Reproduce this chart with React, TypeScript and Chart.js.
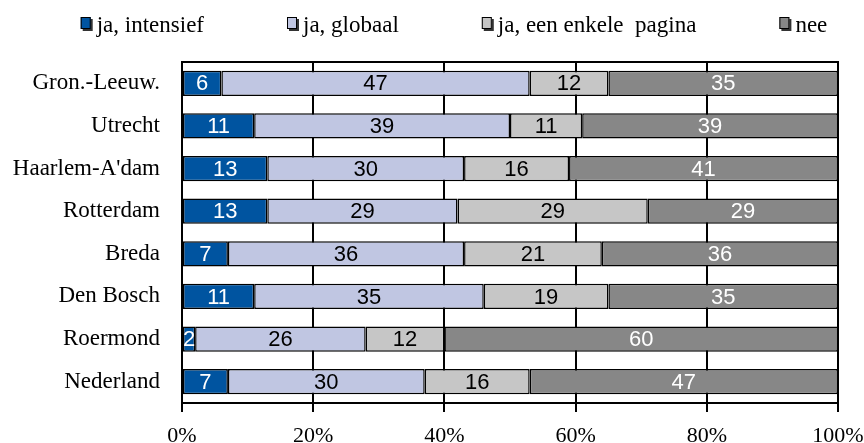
import React, { useEffect, useRef } from "react";
import { Chart, registerables } from "chart.js";

Chart.register(...registerables);

const categories = [
  "Gron.-Leeuw.",
  "Utrecht",
  "Haarlem-A'dam",
  "Rotterdam",
  "Breda",
  "Den Bosch",
  "Roermond",
  "Nederland",
];
const seriesNames = ["ja, intensief", "ja, globaal", "ja, een enkele  pagina", "nee"];
const intensief = [6, 11, 13, 13, 7, 11, 2, 7];
const globaal = [47, 39, 30, 29, 36, 35, 26, 30];
const enkelePagina = [12, 11, 16, 29, 21, 19, 12, 16];
const nee = [35, 39, 41, 29, 36, 35, 60, 47];
const xTicks = [0, 20, 40, 60, 80, 100];

const fillColors = ["#0054A0", "#C0C6E2", "#C6C6C6", "#878787"];
const labelColors = ["#FFFFFF", "#000000", "#000000", "#FFFFFF"];
const SERIF = "'Liberation Serif', 'Times New Roman', serif";
const SANS = "'Liberation Sans', Arial, sans-serif";

const barLabels = {
  id: "barLabels",
  afterDatasetsDraw(chart: any) {
    const ctx = chart.ctx;
    ctx.save();
    ctx.font = `22px ${SANS}`;
    ctx.textAlign = "center";
    ctx.textBaseline = "middle";
    chart.data.datasets.forEach((ds: any, di: number) => {
      const meta = chart.getDatasetMeta(di);
      meta.data.forEach((el: any, i: number) => {
        const v = ds.data[i];
        const cx = (el.x + el.base) / 2;
        ctx.fillStyle = labelColors[di];
        ctx.fillText(String(v), cx, el.y + 1);
      });
    });
    ctx.restore();
  },
};

const frame = {
  id: "frame",
  afterDatasetsDraw(chart: any) {
    const { ctx, chartArea } = chart;
    ctx.save();
    ctx.strokeStyle = "#000";
    ctx.lineWidth = 2;
    ctx.beginPath();
    ctx.moveTo(chartArea.left, chartArea.top);
    ctx.lineTo(chartArea.right, chartArea.top);
    ctx.lineTo(chartArea.right, chartArea.bottom);
    ctx.stroke();
    ctx.restore();
  },
};

const customLegend = {
  id: "customLegend",
  afterDraw(chart: any) {
    const ctx = chart.ctx;
    ctx.save();
    ctx.font = `23px ${SERIF}`;
    ctx.textBaseline = "alphabetic";
    ctx.textAlign = "left";
    const gap = 83;
    const boxToText = 16;
    const widths = seriesNames.map((n) => boxToText + ctx.measureText(n).width);
    const total = widths.reduce((a, b) => a + b, 0) + gap * (seriesNames.length - 1);
    let x = 454 - total / 2;
    const baseline = 32;
    seriesNames.forEach((n, i) => {
      ctx.fillStyle = "#333";
      ctx.fillRect(x + 2, 19, 10, 12);
      ctx.fillStyle = fillColors[i];
      ctx.fillRect(x, 17, 10, 12);
      ctx.strokeStyle = "#000";
      ctx.lineWidth = 1;
      ctx.strokeRect(x + 0.5, 17.5, 9, 11);
      ctx.fillStyle = "#000";
      ctx.fillText(n, x + boxToText, baseline);
      x += widths[i] + gap;
    });
    ctx.restore();
  },
};

export default function App() {
  const ref = useRef<HTMLCanvasElement | null>(null);
  useEffect(() => {
    if (!ref.current) return;
    const series = [intensief, globaal, enkelePagina, nee];
    const chart = new Chart(ref.current, {
      type: "bar",
      data: {
        labels: categories,
        datasets: series.map((d, i) => ({
          label: seriesNames[i],
          data: d,
          backgroundColor: fillColors[i],
          borderColor: "#000",
          borderWidth: 1.5,
          borderSkipped: false,
          barPercentage: 0.59,
          categoryPercentage: 1,
        })),
      },
      options: {
        indexAxis: "y",
        responsive: false,
        animation: false,
        devicePixelRatio: 1,
        layout: { padding: { top: 62, left: 0, right: 0, bottom: 0 } },
        plugins: {
          legend: { display: false },
          tooltip: { enabled: false },
          title: { display: false },
        },
        scales: {
          x: {
            stacked: true,
            min: 0,
            max: 100,
            afterBuildTicks: (scale: any) => {
              scale.ticks = xTicks.map((v) => ({ value: v }));
            },
            afterFit: (scale: any) => {
              scale.height = 40;
              scale.paddingRight = 26;
              scale.paddingLeft = 15;
            },
            ticks: {
              callback: (v: any) => `${v}%`,
              font: { family: SERIF, size: 22 },
              color: "#000",
              padding: 11,
              maxRotation: 0,
            },
            grid: {
              display: true,
              color: "#000",
              lineWidth: 2,
              drawTicks: true,
              tickLength: 9,
            },
            border: { display: true, color: "#000", width: 2 },
          },
          y: {
            stacked: true,
            afterFit: (scale: any) => {
              scale.width = 182;
            },
            ticks: {
              font: { family: SERIF, size: 23 },
              color: "#000",
              padding: 22,
            },
            grid: { display: false, drawTicks: false },
            border: { display: true, color: "#000", width: 2 },
          },
        },
      },
      plugins: [barLabels, frame, customLegend],
    });
    return () => chart.destroy();
  }, []);
  return (
    <div style={{ position: "absolute", left: 0, top: 0, width: 864, height: 443, background: "#fff" }}>
      <canvas ref={ref} width={864} height={443} style={{ display: "block" }} />
    </div>
  );
}
